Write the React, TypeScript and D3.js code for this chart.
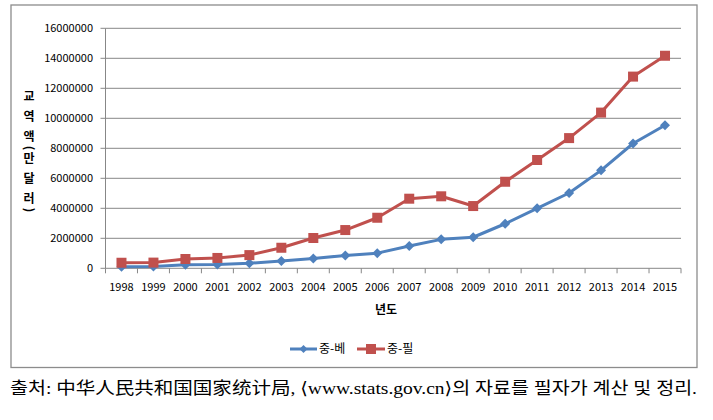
import React from "react";
import * as d3 from "d3";

const years = ["1998","1999","2000","2001","2002","2003","2004","2005","2006","2007","2008","2009","2010","2011","2012","2013","2014","2015"];
const vietnam = [110000,120000,230000,250000,340000,480000,650000,860000,1010000,1490000,1930000,2070000,2970000,4000000,5020000,6530000,8320000,9540000];
const philippines = [370000,380000,620000,690000,880000,1370000,2020000,2550000,3370000,4640000,4800000,4150000,5770000,7220000,8680000,10380000,12780000,14170000];
const yTicks = [0,2000000,4000000,6000000,8000000,10000000,12000000,14000000,16000000];
const seriesNames = ["중-베","중-필"];
const yTitleChars = ["교","역","액","(","만","달","러",")"];
const caption = "출처: 中华人民共和国国家统计局, ⟨www.stats.gov.cn⟩의 자료를 필자가 계산 및 정리.";

const BLUE = "#4F81BD";
const RED = "#C0504D";
const GRID = "#878787";
const FONT = "'Noto Sans CJK KR', 'DejaVu Sans', sans-serif";

export default function App() {
  const left = 105.5, right = 681, top = 28.3, bottom = 268.3;
  const x = d3.scaleBand<string>().domain(years).range([left, right]);
  const y = d3.scaleLinear().domain([0, 16000000]).range([bottom, top]);
  const cx = (yr: string) => (x(yr) as number) + x.bandwidth() / 2;
  const line = d3.line<number>().x((_, i) => cx(years[i])).y(d => y(d));

  const diamond = (px: number, py: number, r: number) =>
    `M${px},${py - r}L${px + r},${py}L${px},${py + r}L${px - r},${py}Z`;

  const titleYs: number[] = [];
  let cur = 97;
  yTitleChars.forEach((c, i) => {
    if (i > 0) {
      const prev = yTitleChars[i - 1];
      const isP = c === "(" || c === ")";
      const prevP = prev === "(" || prev === ")";
      cur += isP || prevP ? 11 : 20;
    }
    titleYs.push(cur);
  });

  return (
    <svg width={713} height={420} style={{ position: "absolute", left: 0, top: 0 }}>
      <rect x={0} y={0} width={713} height={420} fill="#fff" />
      <rect x={11} y={5} width={686} height={362.5} fill="#fff" stroke="#8c8c8c" strokeWidth={1.3} />
      {yTicks.map(t => (
        <g key={t}>
          {t > 0 && <line x1={left} x2={right} y1={y(t)} y2={y(t)} stroke={GRID} strokeWidth={1} />}
          <line x1={left - 5} x2={left} y1={y(t)} y2={y(t)} stroke={GRID} strokeWidth={1} />
          <text x={93} y={y(t)} dy="0.35em" textAnchor="end" fontFamily={FONT} fontSize={11} fill="#000">{t}</text>
        </g>
      ))}
      <line x1={left} x2={left} y1={top} y2={bottom} stroke={GRID} strokeWidth={1} />
      <line x1={left} x2={right} y1={bottom} y2={bottom} stroke={GRID} strokeWidth={1} />
      {years.map(yr => (
        <line key={"t" + yr} x1={(x(yr) as number)} x2={(x(yr) as number)} y1={bottom} y2={bottom + 5} stroke={GRID} />
      ))}
      <line x1={right} x2={right} y1={bottom} y2={bottom + 5} stroke={GRID} />
      {years.map(yr => (
        <text key={"l" + yr} x={cx(yr)} y={287} dy="0.35em" textAnchor="middle" fontFamily={FONT} fontSize={11} fill="#000">{yr}</text>
      ))}
      <text x={386} y={310} dy="0.35em" textAnchor="middle" fontFamily={FONT} fontSize={12} fontWeight="bold">년도</text>
      {yTitleChars.map((c, i) => {
        const isP = c === "(" || c === ")";
        return isP ? (
          <text key={"yt" + i} x={0} y={0} transform={`translate(29,${titleYs[i]}) rotate(90)`} dy="0.35em" textAnchor="middle" fontFamily={FONT} fontSize={12} fontWeight="bold">{c}</text>
        ) : (
          <text key={"yt" + i} x={29} y={titleYs[i]} dy="0.35em" textAnchor="middle" fontFamily={FONT} fontSize={12} fontWeight="bold">{c}</text>
        );
      })}
      <path d={line(vietnam) || ""} fill="none" stroke={BLUE} strokeWidth={3} strokeLinejoin="round" />
      {vietnam.map((v, i) => (
        <path key={"b" + i} d={diamond(cx(years[i]), y(v), 5)} fill={BLUE} />
      ))}
      <path d={line(philippines) || ""} fill="none" stroke={RED} strokeWidth={3} strokeLinejoin="round" />
      {philippines.map((v, i) => (
        <rect key={"r" + i} x={cx(years[i]) - 5} y={y(v) - 5} width={10} height={10} fill={RED} />
      ))}
      <line x1={290} x2={317} y1={349} y2={349} stroke={BLUE} strokeWidth={3} />
      <path d={diamond(303.5, 349, 4)} fill={BLUE} />
      <text x={319} y={349} dy="0.35em" fontFamily={FONT} fontSize={12}>{seriesNames[0]}</text>
      <line x1={357} x2={385} y1={349} y2={349} stroke={RED} strokeWidth={3} />
      <rect x={366} y={344} width={10} height={10} fill={RED} />
      <text x={387} y={349} dy="0.35em" fontFamily={FONT} fontSize={12}>{seriesNames[1]}</text>
      <text x={10} y={388} dy="0.35em" fontFamily="'Liberation Serif', 'DejaVu Serif', 'Noto Sans CJK KR', serif" fontSize={17} textLength={687} lengthAdjust="spacingAndGlyphs">{caption}</text>
    </svg>
  );
}
